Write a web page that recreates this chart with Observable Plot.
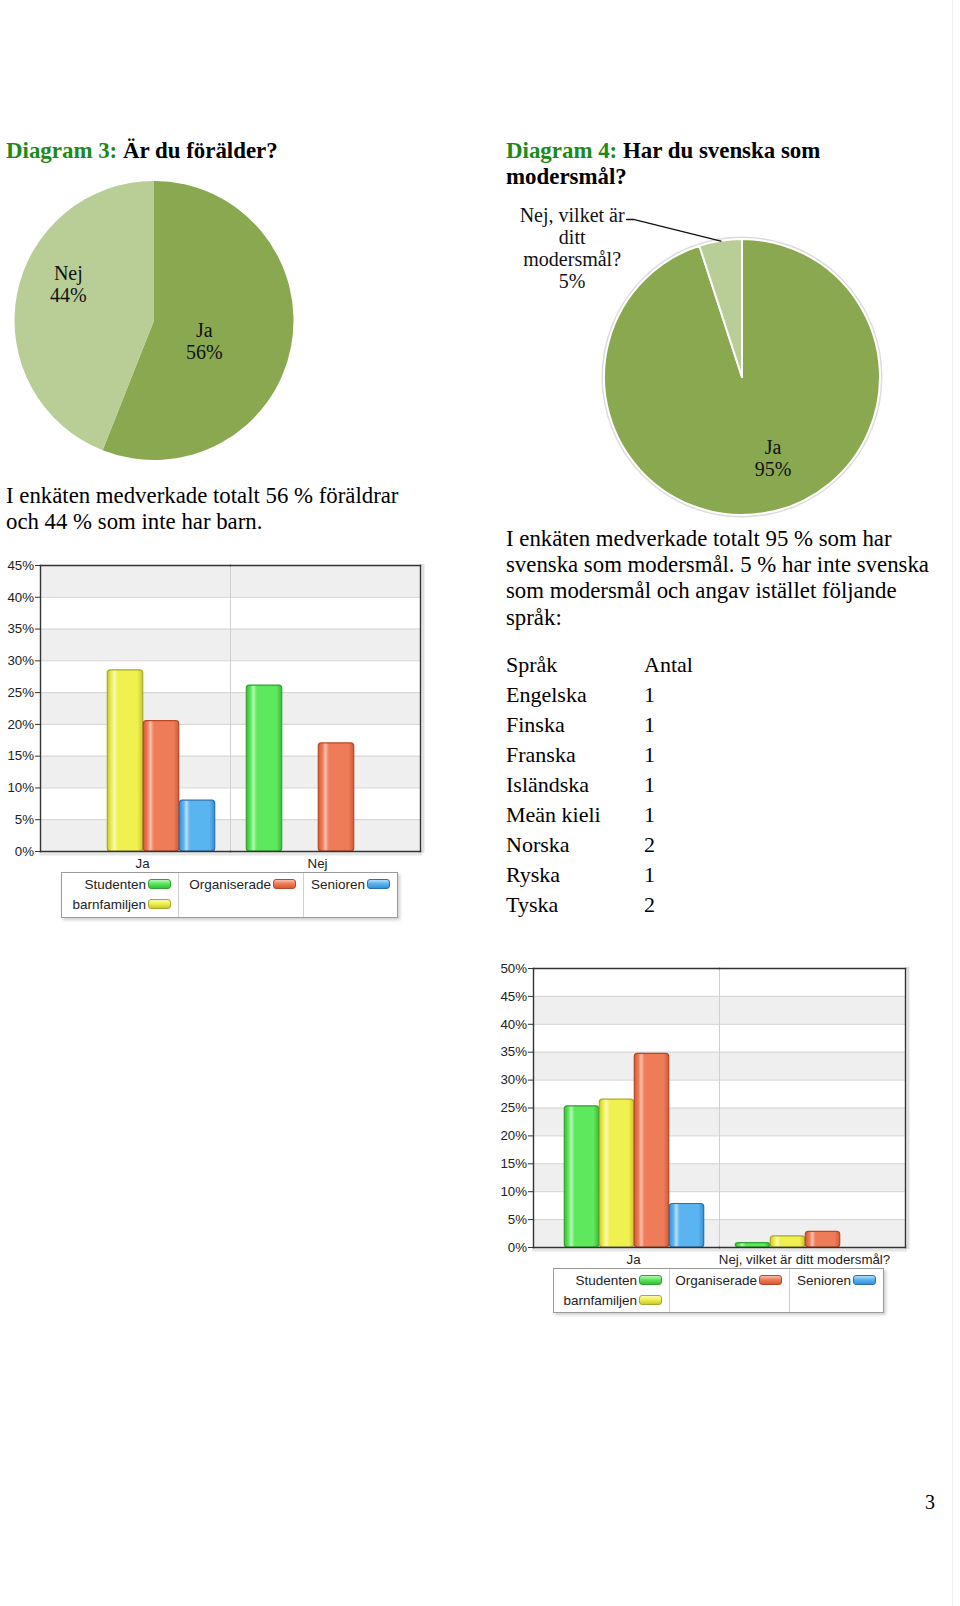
<!DOCTYPE html>
<html><head><meta charset="utf-8">
<script src="https://cdn.jsdelivr.net/npm/d3@7"></script>
<script src="https://cdn.jsdelivr.net/npm/@observablehq/plot@0.6"></script>
<style>
html,body{margin:0;padding:0;background:#fff;}
#page{position:relative;width:960px;height:1606px;overflow:hidden;font-family:"Liberation Serif","Times New Roman",serif;color:#000;}
.abs{position:absolute;}
.title{font-weight:bold;font-size:22.9px;line-height:26px;white-space:nowrap;}
.title .g{color:#1b8a1b;}
.para{font-size:22.8px;line-height:26px;white-space:nowrap;}
.tbl{font-size:22px;line-height:30px;white-space:nowrap;}
.legend{position:absolute;border:1px solid #9a9a9a;box-shadow:2px 2px 3px #cfcfcf;display:flex;font-family:"Liberation Sans",Arial,sans-serif;font-size:13.5px;color:#222;background:#fff;box-sizing:border-box;}
.legend .col{border-left:1px solid #cfcfcf;padding:1px 7px 0 0;box-sizing:border-box;}
.legend .col:first-child{border-left:none;}
.item{display:flex;justify-content:flex-end;align-items:center;height:20px;white-space:nowrap;}
.sw{display:inline-block;width:21px;height:8px;border-radius:3px;margin-left:2px;border:1px solid;}
</style></head>
<body>
<svg width="0" height="0" style="position:absolute"><defs id="grads"></defs></svg>
<div id="page"></div>
<script>
// ---------- data ----------
const pie1Labels = ["Ja", "Nej"];
const pie1Values = [56, 44];
const pie2Labels = ["Ja", "Nej, vilket är ditt modersmål?"];
const pie2Values = [95, 5];

const seriesNames = ["Studenten", "barnfamiljen", "Organiserade", "Senioren"];

const bar1Groups = ["Ja", "Nej"];
const bar1Studenten = [0, 26.1];
const bar1Barnfamiljen = [28.5, 0];
const bar1Organiserade = [20.5, 17.0];
const bar1Senioren = [8.0, 0];
const bar1Ticks = [0, 5, 10, 15, 20, 25, 30, 35, 40, 45];

const bar2Groups = ["Ja", "Nej, vilket är ditt modersmål?"];
const bar2Studenten = [25.3, 0.8];
const bar2Barnfamiljen = [26.5, 2.0];
const bar2Organiserade = [34.7, 2.8];
const bar2Senioren = [7.8, 0];
const bar2Ticks = [0, 5, 10, 15, 20, 25, 30, 35, 40, 45, 50];

const languages = ["Engelska", "Finska", "Franska", "Isländska", "Meän kieli", "Norska", "Ryska", "Tyska"];
const languageCounts = [1, 1, 1, 1, 1, 2, 1, 2];

// ---------- styles ----------
const pieColors = ["#8aa850", "#b8ce96"];
const seriesStyle = [
  {edge: "#38bd38", base: "#5ee85e", hi: "#b8f7b8", stroke: "#2ea32e"},
  {edge: "#c9c935", base: "#f0f04e", hi: "#f8f8b4", stroke: "#a9a92a"},
  {edge: "#d65a38", base: "#ee7c58", hi: "#f8c0ae", stroke: "#b84826"},
  {edge: "#3a90d2", base: "#5ab4f0", hi: "#b4def8", stroke: "#2a70b0"}
];
const groupShift = [8, -7];
const labelShift = [7, -8];

const defs = document.getElementById("grads");
defs.innerHTML = seriesStyle.map((s, j) => `
  <linearGradient id="g${j}" x1="0" x2="1" y1="0" y2="0">
    <stop offset="0" stop-color="${s.edge}"/>
    <stop offset="0.12" stop-color="${s.base}"/>
    <stop offset="0.2" stop-color="${s.hi}"/>
    <stop offset="0.3" stop-color="${s.base}"/>
    <stop offset="0.85" stop-color="${s.base}"/>
    <stop offset="1" stop-color="${s.edge}"/>
  </linearGradient>`).join("");

const page = document.getElementById("page");
function addDiv(cls, left, top, html) {
  const d = document.createElement("div");
  d.className = "abs " + cls;
  d.style.left = left + "px";
  d.style.top = top + "px";
  d.innerHTML = html;
  page.appendChild(d);
  return d;
}

// ---------- text ----------
addDiv("title", 6, 138.3, '<span class="g">Diagram 3:</span> Är du förälder?');
addDiv("title", 506, 138.3, '<span class="g">Diagram 4:</span> Har du svenska som<br>modersmål?');
addDiv("para", 6, 482.5, "I enkäten medverkade totalt 56 % föräldrar<br>och 44 % som inte har barn.");
addDiv("para", 506, 525.8, "I enkäten medverkade totalt 95 % som har<br>svenska som modersmål. 5 % har inte svenska<br>som modersmål och angav istället följande<br>språk:").style.lineHeight = "26.3px";
addDiv("tbl", 506, 649.5, ["Språk", ...languages].join("<br>"));
addDiv("tbl", 644, 649.5, ["Antal", ...languageCounts].join("<br>"));
const pn = addDiv("para", 925, 1489, "3");
pn.style.fontSize = "20px";
const edge = document.createElement("div");
edge.style.cssText = "position:absolute;left:952px;top:0;width:1px;height:1606px;background:#ededed;";
page.appendChild(edge);

// ---------- pies ----------
function pieSlices(labels, values) {
  return d3.pie().sort(null).value(d => d)(values).map((a, i) => ({
    label: labels[i], value: values[i], start: a.startAngle, end: a.endAngle, mid: (a.startAngle + a.endAngle) / 2
  }));
}
function pieRender(slices, strokeColor, strokeW, ring) {
  return (index, scales) => {
    const cx = scales.x(0), cy = scales.y(0), r = Math.abs(scales.x(1) - scales.x(0));
    const g = d3.create("svg:g").attr("transform", `translate(${cx},${cy})`);
    if (ring) g.append("circle").attr("r", r + 1.5).attr("fill", "none").attr("stroke", ring).attr("stroke-width", 2);
    const arc = d3.arc().innerRadius(0).outerRadius(r);
    g.selectAll("path").data(slices).join("path")
      .attr("d", d => arc({startAngle: d.start, endAngle: d.end}))
      .attr("fill", (d, i) => pieColors[i])
      .attr("stroke", strokeColor).attr("stroke-width", strokeW).attr("stroke-linejoin", "round");
    return g.node();
  };
}
function pieChart({labels, values, left, top, width, height, cx, cy, r, layout, stroke, strokeW, ring, leader}) {
  const slices = pieSlices(labels, values);
  const lx = (d, i) => layout[i].k * Math.sin(d.mid) + layout[i].ox;
  const ly = (d, i) => layout[i].k * Math.cos(d.mid) + layout[i].oy;
  const marks = [
    pieRender(slices, stroke, strokeW, ring),
    Plot.text(slices, {
      x: lx, y: ly,
      text: d => d.label.replace("vilket är ", "vilket är\n").replace(" modersmål?", "\nmodersmål?") + "\n" + d.value + "%",
      fontFamily: "Liberation Serif", fontSize: 20, lineHeight: 1.1, fill: "#111"
    })
  ];
  if (leader) {
    const s = slices[leader.slice];
    const pts = [
      {x: leader.x0, y: leader.y0},
      {x: leader.x1, y: leader.y0},
      {x: Math.sin(s.mid), y: Math.cos(s.mid)}
    ];
    marks.push(Plot.line(pts, {x: "x", y: "y", stroke: "#111", strokeWidth: 1.3}));
  }
  const svg = Plot.plot({
    width, height, margin: 0,
    style: {background: "transparent", overflow: "visible"},
    x: {domain: [-1, 1], range: [cx - r, cx + r], axis: null},
    y: {domain: [-1, 1], range: [cy + r, cy - r], axis: null},
    marks
  });
  const d = document.createElement("div");
  d.style.cssText = `position:absolute;left:${left}px;top:${top}px;`;
  d.appendChild(svg);
  page.appendChild(d);
}
pieChart({
  labels: pie1Labels, values: pie1Values, left: 0, top: 170, width: 310, height: 300,
  cx: 154, cy: 150.5, r: 139.5, stroke: "none", strokeW: 0,
  layout: [{k: 0.4, ox: -0.036, oy: -0.068}, {k: 0.65, ox: 0.021, oy: 0.147}]
});
pieChart({
  labels: pie2Labels, values: pie2Values, left: 500, top: 196, width: 390, height: 330,
  cx: 242, cy: 181, r: 138, stroke: "#fff", strokeW: 2, ring: "#dcdcdc",
  layout: [{k: 0.6, ox: 0.128, oy: 0.01}, {k: 1.3, ox: -1.031, oy: -0.346}],
  leader: {slice: 1, x0: -0.84, x1: -0.79, y0: 1.145}
});

// ---------- bar charts ----------
function barChart({groups, values, ticks, left, top, width, height, mL, mR, mT, mB}) {
  const rows = [];
  groups.forEach((g, i) => seriesNames.forEach((s, j) => rows.push({group: g, gi: i, series: s, value: values[j][i]})));
  const stripes = ticks.slice(0, -1).map((t, i) => ({lo: t, hi: ticks[i + 1], i})).filter(d => d.i % 2 === 0);
  const barMarks = [];
  groups.forEach((g, gi) => seriesNames.forEach((s, j) => {
    barMarks.push(Plot.barY(rows.filter(d => d.gi === gi && d.series === s && d.value > 0), {
      fx: "group", x: "series", y: "value", dx: groupShift[gi],
      fill: `url(#g${j})`, stroke: seriesStyle[j].stroke, strokeWidth: 1.2,
      rx: 3, insetLeft: 0.3, insetRight: 0.3
    }));
  }));
  const labelMarks = groups.map((g, gi) => Plot.text([g], {
    fx: d => d, text: d => d, frameAnchor: "bottom", lineAnchor: "top",
    dy: 7.3, dx: labelShift[gi], fill: "#222", fontSize: 13.3
  }));
  const svg = Plot.plot({
    width, height, marginLeft: mL, marginRight: mR, marginTop: mT, marginBottom: mB,
    style: {fontFamily: "Liberation Sans, Arial, sans-serif", fontSize: "13.3px", color: "#222", background: "transparent", overflow: "visible"},
    fx: {domain: groups, padding: 0, axis: null},
    x: {domain: seriesNames, paddingInner: 0, paddingOuter: 0.6, axis: null},
    y: {domain: [ticks[0], ticks[ticks.length - 1]], axis: null},
    marks: [
      Plot.rect(stripes, {y1: "lo", y2: "hi", fill: "#efefef"}),
      Plot.gridY(ticks, {stroke: "#d3d3d3", strokeOpacity: 1}),
      ...barMarks,
      Plot.frame({anchor: "right", stroke: "#e0e0e0", strokeWidth: 3, dx: 2.5, fx: () => groups[1]}),
      Plot.frame({anchor: "bottom", stroke: "#e6e6e6", strokeWidth: 3, dy: 2.5}),
      Plot.frame({anchor: "left", stroke: "#d0d0d0", fx: () => groups[1]}),
      Plot.frame({anchor: "top", stroke: "#333", strokeWidth: 1.4}),
      Plot.frame({anchor: "bottom", stroke: "#333", strokeWidth: 1.4}),
      Plot.frame({anchor: "left", stroke: "#333", strokeWidth: 1.4, fx: () => groups[0]}),
      Plot.frame({anchor: "right", stroke: "#333", strokeWidth: 1.4, fx: () => groups[1]}),
      Plot.axisY(ticks, {tickSize: 5, tickPadding: 1.5, tickFormat: d => d + "%", stroke: "#333", fill: "#222", fontSize: 13.3}),
      ...labelMarks
    ]
  });
  const d = document.createElement("div");
  d.style.cssText = `position:absolute;left:${left}px;top:${top}px;`;
  d.appendChild(svg);
  page.appendChild(d);
}
barChart({groups: bar1Groups, values: [bar1Studenten, bar1Barnfamiljen, bar1Organiserade, bar1Senioren],
  ticks: bar1Ticks, left: 0, top: 545, width: 430, height: 328, mL: 40, mR: 10, mT: 20, mB: 22});
barChart({groups: bar2Groups, values: [bar2Studenten, bar2Barnfamiljen, bar2Organiserade, bar2Senioren],
  ticks: bar2Ticks, left: 480, top: 948, width: 440, height: 321, mL: 53, mR: 15, mT: 20, mB: 22});

// ---------- legends ----------
function legend(left, top, width, height, colWidths) {
  const sw = j => `<span class="sw" style="background:linear-gradient(${seriesStyle[j].hi}, ${seriesStyle[j].base} 45%, ${seriesStyle[j].edge});border-color:${seriesStyle[j].stroke}"></span>`;
  const cols = [[0, 1], [2], [3]];
  const html = cols.map((c, k) => `<div class="col" style="width:${colWidths[k]}px">` +
    c.map(j => `<div class="item">${seriesNames[j]}${sw(j)}</div>`).join("") + `</div>`).join("");
  const d = document.createElement("div");
  d.className = "legend";
  d.style.cssText = `left:${left}px;top:${top}px;width:${width}px;height:${height}px;`;
  d.innerHTML = html;
  page.appendChild(d);
}
legend(61, 872, 337, 46, [116, 125, 94]);
legend(553, 1268, 331, 45, [115, 120, 94]);
</script>
</body></html>
